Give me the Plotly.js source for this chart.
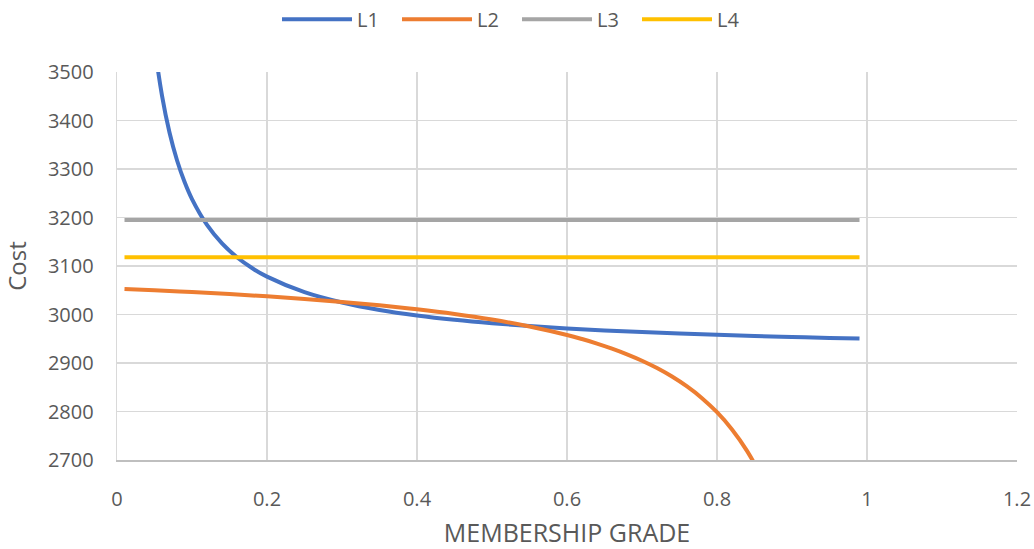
<!DOCTYPE html>
<html>
<head>
<meta charset="utf-8">
<script src="https://cdn.plot.ly/plotly-3.0.1.min.js"></script>
<style>
  html, body { margin: 0; padding: 0; background: #ffffff; }
  #chart { width: 1034px; height: 549px; }
</style>
</head>
<body>
<div id="chart"></div>
<script>
// Membership grade values (x) for each cost curve
const gradeL1 = [0.04, 0.05, 0.06, 0.07, 0.08, 0.09, 0.10, 0.12, 0.14, 0.16, 0.18, 0.20,
                 0.25, 0.30, 0.35, 0.40, 0.45, 0.50, 0.55, 0.60, 0.65, 0.70, 0.75,
                 0.80, 0.85, 0.90, 0.95, 0.99];
const costL1 = [3718, 3558, 3451.3, 3375.1, 3318, 3273.6, 3238, 3184.7, 3146.6, 3118, 3095.8, 3078,
                3046, 3024.7, 3009.4, 2998, 2989.1, 2982, 2976.2, 2971.3, 2967.2, 2963.7, 2960.7,
                2958, 2955.6, 2953.6, 2951.7, 2950.3];

const gradeL2 = [0.01, 0.05, 0.10, 0.15, 0.20, 0.25, 0.30, 0.35, 0.40, 0.45, 0.50,
                 0.55, 0.60, 0.62, 0.64, 0.66, 0.68, 0.70, 0.72, 0.74, 0.76, 0.78,
                 0.80, 0.82, 0.84, 0.86, 0.88];
const costL2 = [3052.7, 3049.9, 3046.2, 3042.1, 3037.4, 3032.1, 3026, 3019, 3010.8, 3001.2, 2989.6,
                2975.4, 2957.8, 2949.4, 2940.1, 2929.6, 2917.9, 2904.7, 2889.5, 2872, 2851.6, 2827.5,
                2798.5, 2763.1, 2718.9, 2662, 2586.2];

const gradeFlat = [0.01, 0.99];
const costL3 = [3195, 3195];
const costL4 = [3118, 3118];

const seriesNames = ['L1', 'L2', 'L3', 'L4'];
const seriesColors = ['#4472C4', '#ED7D31', '#A5A5A5', '#FFC000'];

const xTicks = [0, 0.2, 0.4, 0.6, 0.8, 1, 1.2];
const yTicks = [2700, 2800, 2900, 3000, 3100, 3200, 3300, 3400, 3500];

const FONT = '"Open Sans", "Noto Sans", sans-serif';

function line(x, y, i, smooth) {
  return {
    x: x, y: y, type: 'scatter', mode: 'lines', name: seriesNames[i],
    line: { color: seriesColors[i], width: 4, shape: smooth ? 'spline' : 'linear', smoothing: 1 },
    cliponaxis: true, hoverinfo: 'x+y'
  };
}

const data = [
  line(gradeL1, costL1, 0, true),
  line(gradeL2, costL2, 1, true),
  line(gradeFlat, costL3, 2, false),
  line(gradeFlat, costL4, 3, false)
];

const layout = {
  width: 1034, height: 549,
  margin: { l: 117, r: 17, t: 72, b: 89 },
  paper_bgcolor: '#ffffff', plot_bgcolor: '#ffffff',
  font: { family: FONT, color: '#595959', size: 20 },
  showlegend: true,
  legend: {
    orientation: 'h', x: 0.5, xanchor: 'center', xref: 'container',
    y: 0.965, yanchor: 'middle', yref: 'container',
    font: { family: FONT, size: 20, color: '#595959' },
    entrywidth: 35, entrywidthmode: 'pixels', itemwidth: 70
  },
  xaxis: {
    range: [0, 1.2], tickvals: xTicks, ticktext: xTicks.map(String),
    showgrid: true, gridcolor: '#D9D9D9', gridwidth: 1.3,
    showline: true, linecolor: '#BFBFBF', linewidth: 1.5,
    zeroline: false, ticks: '', ticklabelstandoff: 20,
    tickfont: { family: FONT, size: 20, color: '#595959' },
    title: { text: 'MEMBERSHIP GRADE', font: { family: FONT, size: 25, color: '#595959' }, standoff: 24 }
  },
  yaxis: {
    range: [2700, 3500], tickvals: yTicks,
    showgrid: true, gridcolor: '#D9D9D9', gridwidth: 1.3,
    showline: true, linecolor: '#D9D9D9', linewidth: 1.3,
    zeroline: false, ticks: '', ticklabelstandoff: 18,
    tickfont: { family: FONT, size: 20, color: '#595959' },
    title: { text: 'Cost', font: { family: FONT, size: 24, color: '#595959' }, standoff: 14 }
  }
};

Plotly.newPlot('chart', data, layout, { displayModeBar: false, staticPlot: true });
</script>
</body>
</html>
